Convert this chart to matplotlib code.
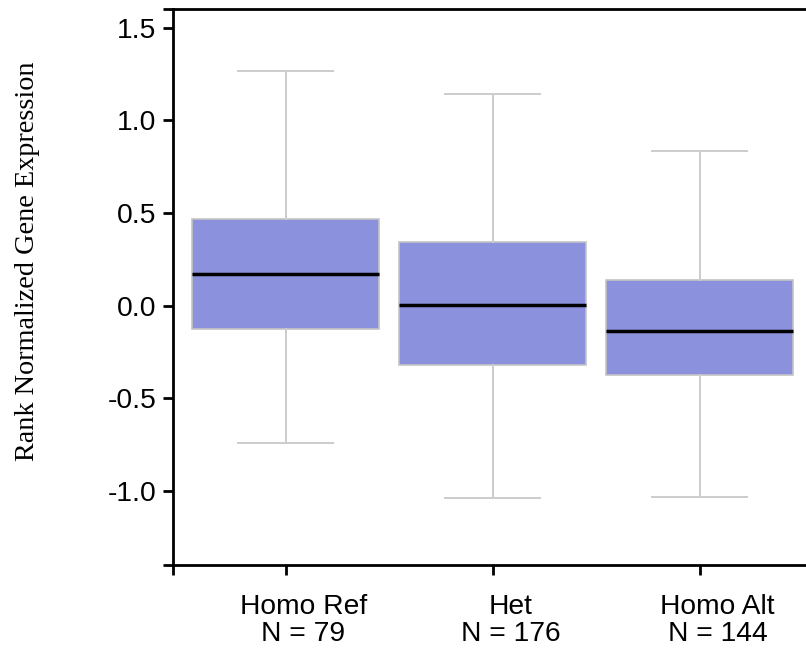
import matplotlib
matplotlib.use("Agg")
import matplotlib.pyplot as plt
import matplotlib.transforms as mtransforms

categories = ["Homo Ref", "Het", "Homo Alt"]
counts = [79, 176, 144]
whisker_low = [-0.74, -1.036, -1.032]
q1 = [-0.126, -0.321, -0.373]
median = [0.171, 0.005, -0.136]
q3 = [0.468, 0.341, 0.138]
whisker_high = [1.263, 1.144, 0.835]
ytick_vals = [-1.0, -0.5, 0.0, 0.5, 1.0, 1.5]

fig = plt.figure(figsize=(8.06, 6.5), dpi=100)
ax = fig.add_axes([172.5 / 806, 85 / 650, 1 - 172.5 / 806, 556 / 650])

stats = []
for i, c in enumerate(categories):
    stats.append(dict(label=f"{c}\nN = {counts[i]}", whislo=whisker_low[i], q1=q1[i],
                      med=median[i], q3=q3[i], whishi=whisker_high[i], fliers=[]))

pos = list(range(len(categories)))
ax.bxp(stats, positions=pos, widths=0.905, capwidths=0.455, showfliers=False,
       patch_artist=True,
       boxprops=dict(facecolor="#8b91dc", edgecolor="#c4c4c4", linewidth=1.2),
       whiskerprops=dict(color="#cccccc", linewidth=1.4),
       capprops=dict(color="#cccccc", linewidth=1.4),
       medianprops=dict(color="black", linewidth=2.5))

ax.set_xlim(-0.546, 2.514)
ax.set_ylim(-1.4, 1.6)
ax.set_yticks(ytick_vals)
ax.set_yticklabels([f"{v:.1f}" for v in ytick_vals])
ax.set_yticks([-1.4, 1.6], minor=True)
ax.set_xticks([-0.546], minor=True)

for s in ["left", "bottom", "top"]:
    ax.spines[s].set_linewidth(2.0)
    ax.spines[s].set_color("black")
ax.spines["right"].set_visible(False)

ax.tick_params(axis="both", which="both", length=7.5, width=2.0, color="black")
ax.tick_params(axis="y", which="major", labelsize=20.3, pad=4)
ax.tick_params(axis="x", which="major", labelsize=20.3, pad=14, length=7)
offset = mtransforms.ScaledTranslation(0.18, 0, fig.dpi_scale_trans)
for lab in ax.get_xticklabels() + ax.get_yticklabels():
    lab.set_fontfamily("Liberation Sans")
for lab in ax.get_xticklabels():
    lab.set_linespacing(1.05)
    lab.set_transform(lab.get_transform() + offset)

fig.text(28 / 806, (650 - 261) / 650, "Rank Normalized Gene Expression", rotation=90,
         ha="center", va="center", fontsize=20.3, family="Liberation Serif")

fig.savefig("out.png", dpi=100)
